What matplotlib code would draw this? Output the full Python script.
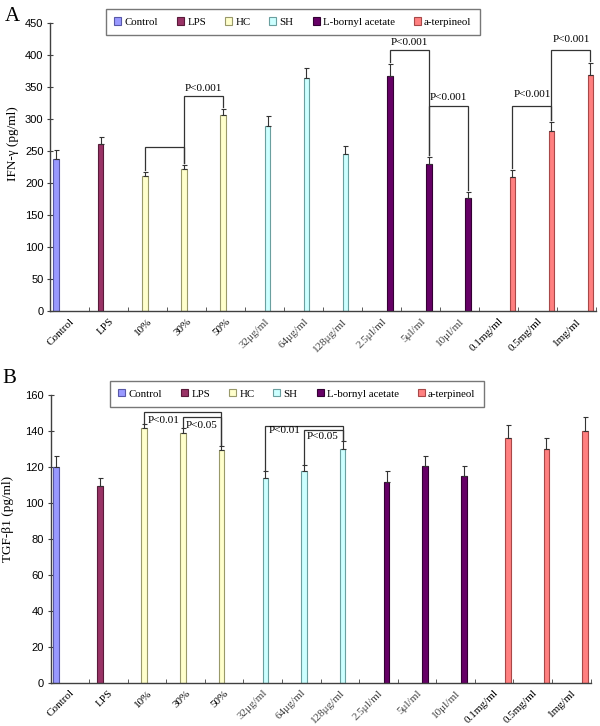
import numpy as np
import matplotlib
matplotlib.use("Agg")
import matplotlib.pyplot as plt

# series (treatment groups) and their colours
groups = ["Control", "LPS", "HC", "SH", "L-bornyl acetate", "a-terpineol"]
group_colors = ["#9999FF", "#993366", "#FFFFCC", "#CCFFFF", "#660066", "#FF8080"]
group_edges = ["#5858a8", "#5a1a3a", "#99996a", "#6a9f9f", "#330033", "#a84848"]

# x categories (doses) and which group each belongs to
dose_labels = ["Control", "LPS", "10%", "30%", "50%",
               "32μg/ml", "64μg/ml", "128μg/ml",
               "2.5μl/ml", "5μl/ml", "10μl/ml",
               "0.1mg/ml", "0.5mg/ml", "1mg/ml"]
dose_group = [0, 1, 2, 2, 2, 3, 3, 3, 4, 4, 4, 5, 5, 5]

# panel A: IFN-gamma
ifn_mean = [237, 261, 211, 222, 306, 289, 364, 245, 367, 230, 177, 209, 281, 369]
ifn_err = [14, 11, 6, 6, 10, 16, 16, 13, 19, 11, 9, 11, 14, 19]
# (left bar, right bar, bracket height, label, label bottom)
ifn_brackets = [
    (2, 3, 256, None, None),
    (3, 4, 336, "P<0.001", 341),
    (8, 9, 408, "P<0.001", 413),
    (9, 10, 321, "P<0.001", 326),
    (11, 12, 321, "P<0.001", 332),
    (12, 13, 408, "P<0.001", 417),
]

# panel B: TGF-beta1
tgf_mean = [120.0, 109.4, 141.6, 138.8, 129.4, 113.7, 117.8, 129.8,
            111.9, 120.4, 115.2, 136.3, 129.8, 140.2]
tgf_err = [5.9, 4.2, 2.4, 2.8, 2.3, 3.8, 3.4, 4.7, 5.6, 5.8, 5.6, 7.3, 6.5, 7.3]
# (left bar, right bar, bracket height, label, label top)
tgf_brackets = [
    (2, 4, 150.4, "P<0.01", 148.4),
    (3, 4, 147.6, "P<0.05", 145.4),
    (5, 7, 142.9, "P<0.01", 142.6),
    (6, 7, 140.6, "P<0.05", 139.4),
]

SERIF = "Liberation Serif"
SANS = "Liberation Sans"
NG = len(groups)
BW = 1.0 / (NG + 1)
LINE = "#404040"


def bar_x(k):
    return k + (dose_group[k] + 1) * BW


def draw_panel(ax, means, errs, ymax, ystep, ylabel, label_x, label_y):
    xs = np.array([bar_x(k) for k in range(len(means))])
    means = np.array(means, dtype=float)
    errs = np.array(errs, dtype=float)
    for g, name in enumerate(groups):
        idx = [k for k in range(len(means)) if dose_group[k] == g]
        ax.bar(xs[idx], means[idx], width=BW, color=group_colors[g],
               edgecolor=group_edges[g], linewidth=0.8, label=name, zorder=2)
    ax.errorbar(xs, means, yerr=[np.zeros_like(errs), errs], fmt="none",
                ecolor="#333333", elinewidth=0.8, capsize=1.8, capthick=0.8,
                zorder=3)

    ax.set_xlim(0, len(means))
    ax.set_ylim(0, ymax)
    ax.set_yticks(np.arange(0, ymax + 1, ystep))
    ax.set_xticks(np.arange(len(means)) + 0.5)
    ax.set_xticks(np.arange(len(means) + 1), minor=True)
    ax.set_xticklabels(dose_labels, rotation=45, ha="right", va="top",
                       rotation_mode="anchor", fontsize=8, family=SERIF)
    for t in ax.get_xticklabels():
        if "μ" in t.get_text():
            t.set_color("#444444")
    ax.tick_params(axis="x", which="major", length=0, pad=4)
    ax.tick_params(axis="x", which="minor", direction="in", length=3,
                   color=LINE)
    ax.tick_params(axis="y", direction="inout", length=4, color=LINE,
                   labelsize=8, pad=3)
    for t in ax.get_yticklabels():
        t.set_family(SANS)
    for s in ["top", "right"]:
        ax.spines[s].set_visible(False)
    for s in ["left", "bottom"]:
        ax.spines[s].set_color(LINE)
        ax.spines[s].set_linewidth(1.0)
    ax.set_ylabel(ylabel, fontsize=9.5, family=SERIF)
    ax.yaxis.set_label_coords(label_x, label_y)
    return xs, means + errs


def bracket(ax, xs, tops, i, j, h, gap):
    ax.plot([xs[i], xs[i], xs[j], xs[j]],
            [tops[i] + gap, h, h, tops[j] + gap],
            color="#333333", lw=0.9, zorder=4, solid_joinstyle="miter")


fig = plt.figure(figsize=(6.0, 7.26), dpi=100)
axA = fig.add_axes([0.084, 0.5716, 0.9093, 0.3967])
axB = fig.add_axes([0.0842, 0.0596, 0.9, 0.3963])

xsA, topsA = draw_panel(axA, ifn_mean, ifn_err, 450, 50, "IFN-γ (pg/ml)",
                        -0.058, 0.58)
for i, j, h, txt, ty in ifn_brackets:
    bracket(axA, xsA, topsA, i, j, h, 3)
    if txt:
        axA.text((xsA[i] + xsA[j]) / 2, ty, txt, ha="center", va="bottom",
                 fontsize=8, family=SERIF, zorder=5)

xsB, topsB = draw_panel(axB, tgf_mean, tgf_err, 160, 20, "TGF-β1 (pg/ml)",
                        -0.068, 0.57)
for i, j, h, txt, ty in tgf_brackets:
    bracket(axB, xsB, topsB, i, j, h, 0.6)
    axB.text(xsB[i] + 0.08, ty, txt, ha="left", va="top",
             fontsize=8, family=SERIF, zorder=5)

for ax, top, left in [(axA, 9.3, 106), (axB, 381, 110)]:
    leg = ax.legend(loc="upper left", ncol=NG, frameon=True, fancybox=False,
                    bbox_to_anchor=(left / 600, 1 - top / 726),
                    bbox_transform=fig.transFigure,
                    prop={"family": SERIF, "size": 7.8},
                    handlelength=0.65, handleheight=0.65, handletextpad=0.3,
                    columnspacing=1.75, borderpad=0.75, borderaxespad=0)
    leg.get_frame().set_edgecolor("#555555")
    leg.get_frame().set_linewidth(1.0)

fig.text(0.008, 0.99, "A", fontsize=15, family=SERIF, va="top", ha="left")
fig.text(0.004, 0.492, "B", fontsize=15, family=SERIF, va="top", ha="left")

fig.savefig("out.png", dpi=100)
